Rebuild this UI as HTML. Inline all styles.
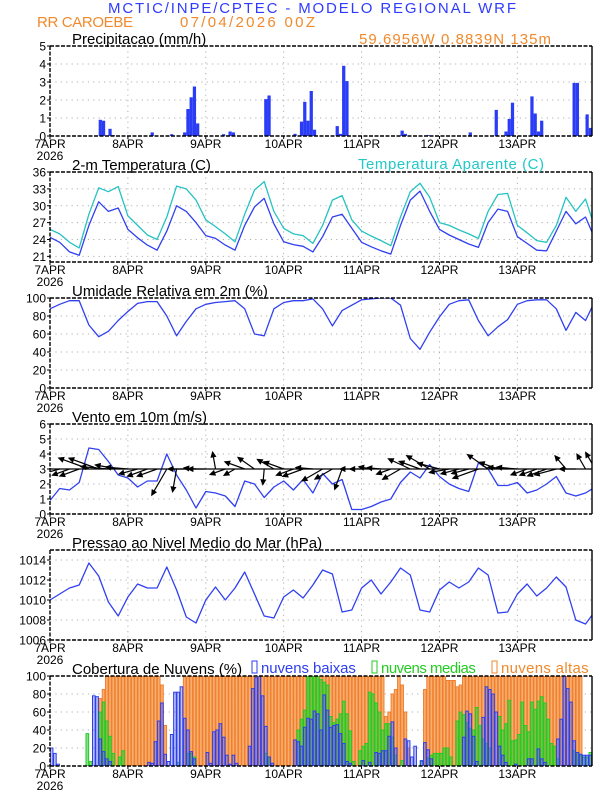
<!DOCTYPE html>
<html><head><meta charset="utf-8"><style>
body{margin:0;background:#fff}
svg{display:block}
text{font-family:"Liberation Sans",sans-serif}
</style></head><body>
<svg id="c" width="612" height="792" viewBox="0 0 612 792" xmlns="http://www.w3.org/2000/svg">
<text x="108" y="13" font-size="15" fill="#2f3cff" textLength="408">MCTIC/INPE/CPTEC - MODELO REGIONAL WRF</text>
<text x="37" y="27" font-size="15" fill="#f08a2c" textLength="96">RR CAROEBE</text>
<text x="180" y="27" font-size="15" fill="#f08a2c" textLength="135">07/04/2026 00Z</text>
<text x="359" y="44" font-size="15" fill="#f08a2c" textLength="192">59.6956W 0.8839N 135m</text>
<g id="plots"></g>
</svg>
<script>
// ---------- data ----------
const dayLabels = ["7APR","8APR","9APR","10APR","11APR","12APR","13APR"];
const yearLabel = "2026";
const precipHours = [15,16,18,19,31,37,41,42,43,44,45,53,55,56,66,67,75,77,78,79,80,81,88,89,90,91,108,109,116,129,137,140,141,142,148,149,150,151,161,162,165,166];
const precipValues = [0.9,0.85,0.4,0.05,0.2,0.1,0.2,1.5,2.15,2.75,0.7,0.1,0.25,0.2,2.05,2.25,0.12,0.8,1.9,0.85,2.5,0.35,0.55,0.12,3.9,3.05,0.3,0.12,0.05,0.2,1.45,0.25,0.95,1.85,2.2,1.25,0.25,0.85,2.95,2.95,1.2,0.45];
const temp2m = [24.4,23.5,21.8,21.2,26.5,30.7,29.0,29.6,25.8,24.3,23.0,22.1,25.5,30.0,29.0,27.0,24.7,24.2,23.0,22.1,26.5,29.8,31.3,26.8,23.6,23.1,22.8,21.8,24.5,28.0,28.5,26.0,23.5,22.7,22.0,21.4,26.5,31.0,32.6,29.0,25.8,24.8,24.0,23.2,22.6,27.0,29.4,29.0,24.5,23.3,22.1,22.0,25.5,29.0,26.8,28.0,24.0];
const tempApparent = [25.8,25.0,23.5,22.5,28.5,33.2,32.5,33.4,28.2,26.5,24.8,24.0,28.0,33.5,33.0,31.0,27.5,26.3,25.0,23.6,28.5,32.8,34.3,29.0,26.0,25.0,24.7,23.3,26.5,31.0,31.8,27.5,25.5,24.6,23.8,22.9,28.0,32.5,34.0,31.5,27.0,26.5,25.7,25.0,24.2,29.0,32.0,32.2,26.5,25.2,23.8,23.5,26.5,31.5,29.0,31.2,26.0];
const relHumidity = [88,93,97,97,70,57,63,75,85,94,96,96,80,58,74,88,93,95,96,97,88,60,58,88,95,97,97,99,88,69,86,92,98,99,100,100,92,55,43,62,79,93,97,98,75,58,68,76,93,97,98,98,88,64,84,75,97];
const windSpeed = [0.9,1.7,1.6,2.1,4.4,4.3,3.5,2.6,2.4,1.8,2.2,2.2,4.0,2.6,1.6,0.4,1.5,1.4,1.2,0.5,2.2,2.0,1.1,1.8,2.2,1.6,2.3,1.4,2.7,2.0,2.3,0.3,0.3,0.5,0.8,1.0,2.1,2.8,2.4,3.3,2.5,2.0,1.7,1.5,3.4,3.0,1.9,1.9,2.1,1.4,1.6,2.0,2.5,1.4,1.2,1.4,1.8];
const windDirScreen = [180,165,160,160,200,200,185,190,185,165,160,160,120,100,180,185,180,260,160,150,200,215,95,210,200,160,160,185,150,150,110,180,180,190,185,160,150,205,200,210,195,170,165,165,160,215,200,185,185,160,160,160,165,230,180,240,240];
const pressure = [1010.0,1010.6,1011.2,1011.5,1013.7,1012.4,1009.8,1008.4,1010.3,1011.6,1011.2,1011.2,1013.3,1011.0,1008.3,1007.7,1010.0,1011.3,1010.0,1011.2,1012.8,1010.6,1008.4,1008.2,1010.3,1011.0,1010.2,1011.5,1013.0,1012.6,1008.8,1009.0,1011.2,1012.0,1010.6,1011.8,1013.2,1012.5,1009.0,1008.8,1011.0,1011.8,1011.2,1011.8,1013.2,1012.5,1008.7,1008.8,1010.6,1011.6,1010.4,1011.2,1012.3,1011.3,1008.0,1007.6,1008.9];
const cloudHigh = [0,0,0,0,0,0,0,0,0,0,0,0,0,0,0,75,85,
100,100,100,100,100,100,100,100,100,100,100,100,100,100,100,100,100,90,45,0,0,0,0,0,
100,100,100,100,100,100,100,100,100,100,100,100,100,100,100,100,100,100,100,100,100,100,100,100,100,100,100,100,100,100,100,100,100,100,100,100,100,100,100,100,100,100,100,100,100,100,100,100,100,100,100,100,100,100,100,100,100,100,100,100,100,100,
55,60,80,85,100,90,60,20,0,0,0,0,85,100,100,100,100,100,100,95,95,95,88,90,
100,100,100,100,100,100,100,100,100,100,100,100,100,100,100,100,100,100,100,100,100,100,100,100,100,100,100,100,100,100,100,100,100,100,100,100,100];
const cloudLow = [20,14,2,0,0,0,0,0,0,0, 0,0,0,78,77,30,16,8,5,0, 0,0,0,0,0,0,0,0,0,0, 4,3,27,50,70,13,5,35,82,82, 88,53,40,16,8,0,0,0,15,3, 38,40,47,32,12,2,12,3,0,0, 0,22,86,98,100,78,44,10,3,0, 0,0,0,0,0,29,27,22,43,53, 52,61,58,40,79,62,43,45,46,36, 25,5,3,0,0,0,6,0,4,0, 15,14,17,17,33,49,20,0,0,30, 28,10,22,0,6,26,18,8,0,0, 0,0,0,0,0,0,0,32,61,58, 33,5,0,54,88,85,80,60,22,12, 4,0,0,2,0,0,0,8,8,0, 19,8,4,0,0,0,30,52,100,86, 71,28,15,13,12,12,12,10];
const cloudMid = [0,0,0,0,0,0,0,0,0,0, 0,36,5,0,0,60,71,50,33,14, 0,10,17,0,0,0,0,0,0,0, 0,0,0,0,0,0,0,0,0,4, 0,0,14,14,10,0,0,0,0,0, 0,0,0,0,0,0,0,0,0,0, 0,0,0,0,0,0,14,10,0,0, 0,0,0,0,0,0,40,52,62,100, 100,100,100,96,93,90,55,48,52,58, 72,58,39,5,0,17,22,25,82,80, 70,60,40,47,47,32,12,0,6,0, 0,0,0,0,5,0,9,12,14,14, 14,20,20,10,0,50,60,57,48,42, 40,65,45,30,25,20,0,0,55,40, 47,73,28,29,35,71,45,38,71,63, 72,77,70,52,25,22,8,0,0,0, 0,17,15,12,10,10,15,15];
const precipTicks = [0,1,2,3,4,5];
const tempTicks = [21,24,27,30,33,36];
const rhTicks = [0,20,40,60,80,100];
const windTicks = [0,1,2,3,4,5,6];
const presTicks = [1006,1008,1010,1012,1014];
const cloudTicks = [0,20,40,60,80,100];

// ---------- drawing ----------
const NS = "http://www.w3.org/2000/svg";
const root = document.getElementById("plots");
const X0 = 50, X1 = 592, HOURS = 167, STEP = 3, PH = 90;
const xh = h => X0 + h * (X1 - X0) / HOURS;
function el(tag, attrs, parent) {
  const e = document.createElementNS(NS, tag);
  for (const k in attrs) e.setAttribute(k, attrs[k]);
  (parent || root).appendChild(e);
  return e;
}
let clipN = 0;
function panel(name, top, ymin, ymax, ticks, title) {
  const g = el("g", {});
  
  
  const y = v => top + PH - (v - ymin) / (ymax - ymin) * PH;
  const cid = "clip" + (clipN++);
  const cp = el("clipPath", {id: cid}, g);
  el("rect", {x: X0, y: top, width: X1 - X0, height: PH}, cp);
  const grid = el("g", {stroke: "#b0b0b0", "stroke-width": 1, "stroke-dasharray": "1.2,4.2"}, g);
  
  
  ticks.forEach(t => { if (t > ymin && t < ymax) el("line", {x1: X0, x2: X1, y1: y(t), y2: y(t)}, grid); });
  for (let d = 1; d < dayLabels.length; d++) el("line", {x1: xh(d*24), x2: xh(d*24), y1: top, y2: top + PH}, grid);
  const plot = el("g", {"clip-path": "url(#" + cid + ")"}, g);
  const fr = el("g", {stroke: "#000", "stroke-width": 1.4, fill: "none"}, g);
  
  
  el("line", {x1: X0, x2: X1, y1: top, y2: top, "stroke-dasharray": "4,1.5"}, fr);
  el("line", {x1: X0, x2: X1, y1: top + PH, y2: top + PH, "stroke-dasharray": "4,1.5"}, fr);
  el("line", {x1: X0, x2: X0, y1: top, y2: top + PH, "stroke-dasharray": "4,1.5"}, fr);
  el("line", {x1: X1, x2: X1, y1: top, y2: top + PH}, fr);
  const yl = el("g", {"font-size": 12, "text-anchor": "end", fill: "#000"}, g);
  
  
  ticks.forEach(t => {
    el("line", {x1: X0 - 3, x2: X0, y1: y(t), y2: y(t), stroke: "#000"}, yl);
    const tx = el("text", {x: X0 - 4, y: y(t) + 4.5}, yl);
    tx.textContent = String(t);
  });
  const xl = el("g", {"font-size": 12, "text-anchor": "middle", fill: "#000"}, g);
  
  
  dayLabels.forEach((lab, d) => {
    el("line", {x1: xh(d*24), x2: xh(d*24), y1: top + PH, y2: top + PH + 3, stroke: "#000"}, xl);
    const tx = el("text", {x: xh(d*24), y: top + PH + 12}, xl);
    tx.textContent = lab;
  });
  const yr = el("text", {x: X0, y: top + PH + 24}, xl);
  yr.textContent = yearLabel;
  const tt = el("text", {x: 72, y: top - 2, "font-size": 15, fill: "#000"}, g);
  
  
  tt.textContent = title;
  return {g, plot, y};
}
function line(p, arr, color, name) {
  const pts = arr.map((v, i) => xh(i*STEP).toFixed(1) + "," + p.y(v).toFixed(1)).join(" ");
  const pl = el("polyline", {points: pts, fill: "none", stroke: color, "stroke-width": 1.3, "stroke-linejoin": "round"}, p.plot);
  
  
}

const p1 = panel("precip-panel", 46, 0, 5, precipTicks, "Precipitacao (mm/h)");
precipHours.forEach((h, i) => {
  const r = el("rect", {x: xh(h), y: p1.y(precipValues[i]), width: xh(1)-X0, height: p1.y(0) - p1.y(precipValues[i]), fill: "#2a3cf5"}, p1.plot);
  
  
});

const p2 = panel("temp-panel", 172, 20, 36, tempTicks, "2-m Temperatura (C)");
line(p2, tempApparent, "#26c2c2", "apparent-temp-line");
line(p2, temp2m, "#3040f0", "temp-line");
const lt = el("text", {x: 358, y: 169, "font-size": 15, fill: "#22c8c8", textLength: 186});


lt.textContent = "Temperatura Aparente (C)";

const p3 = panel("rh-panel", 298, 0, 100, rhTicks, "Umidade Relativa em 2m (%)");
line(p3, relHumidity, "#3040f0", "rh-line");

const p4 = panel("wind-panel", 424, 0, 6, windTicks, "Vento em 10m (m/s)");
line(p4, windSpeed, "#3040f0", "wind-speed-line");
el("line", {x1: X0, x2: X1, y1: p4.y(3), y2: p4.y(3), stroke: "#000", "stroke-width": 1.2}, p4.plot);
windDirScreen.forEach((a, i) => {
  const x = xh(i*STEP), y0 = p4.y(3);
  const L = 10 + windSpeed[i] * 5;
  const r = a * Math.PI / 180;
  const x2 = x + L * Math.cos(r), y2 = y0 + L * Math.sin(r);
  const ag = el("g", {stroke: "#000", "stroke-width": 1.2, fill: "#000"}, p4.plot);
  
  
  el("line", {x1: x, y1: y0, x2: x2, y2: y2}, ag);
  const hl = 5;
  const b1 = r + 2.7, b2 = r - 2.7;
  el("polygon", {points: x2+","+y2+" "+(x2+hl*Math.cos(b1))+","+(y2+hl*Math.sin(b1))+" "+(x2+hl*Math.cos(b2))+","+(y2+hl*Math.sin(b2))}, ag);
});

const p5 = panel("pressure-panel", 550, 1006, 1015, presTicks, "Pressao ao Nivel Medio do Mar (hPa)");
line(p5, pressure, "#3040f0", "pressure-line");

const p6 = panel("cloud-panel", 676, 0, 100, cloudTicks, "Cobertura de Nuvens (%)");
const bw = xh(1) - X0;
function bars(arr, fill, stroke, name) {
  arr.forEach((v, h) => {
    if (v <= 0) return;
    const r = el("rect", {x: xh(h) + 0.3, y: p6.y(v), width: bw - 0.6, height: p6.y(0) - p6.y(v), fill: fill, stroke: stroke, "stroke-width": 1}, p6.plot);
    
    
  });
}
bars(cloudHigh, "rgba(247,165,95,0.9)", "#f08030", "cloud-high-bar");
bars(cloudMid, "rgba(40,200,40,0.55)", "#22cc22", "cloud-mid-bar");
bars(cloudLow, "rgba(60,80,230,0.35)", "#2e3ef0", "cloud-low-bar");
const leg = [["nuvens baixas", "#2e3ef0", 252, "legend-low-clouds"], ["nuvens medias", "#22cc22", 372, "legend-mid-clouds"], ["nuvens altas", "#f08a2c", 492, "legend-high-clouds"]];
leg.forEach(([t, c, x, n]) => {
  const lg = el("g", {});
  
  
  el("rect", {x: x, y: 661, width: 5, height: 12, fill: "none", stroke: c, "stroke-width": 1}, lg);
  const tx = el("text", {x: x + 9, y: 673, "font-size": 15, fill: c, textLength: t.length * 7.3}, lg);
  tx.textContent = t;
});
</script>
</body></html>
